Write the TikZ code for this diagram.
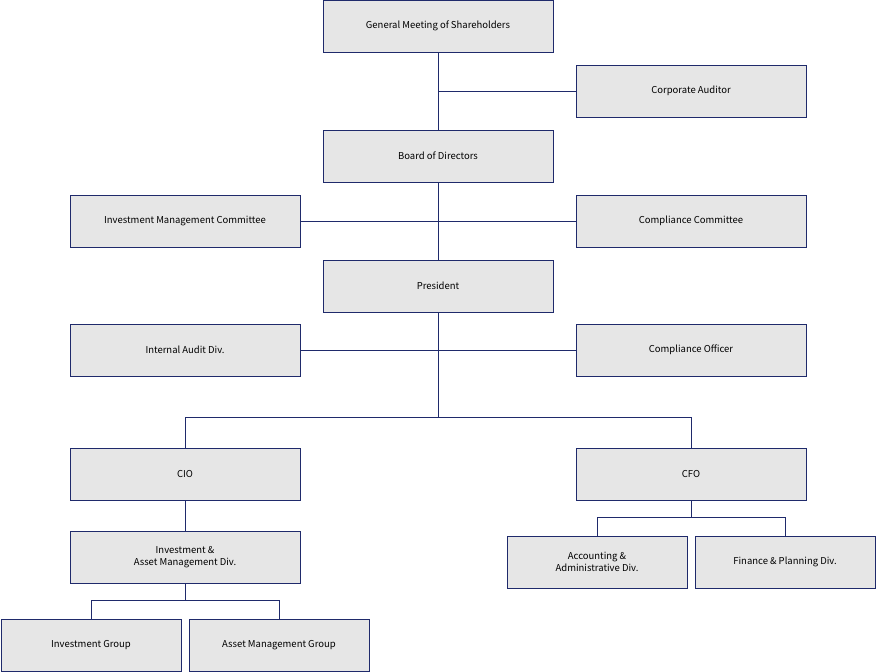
\documentclass[tikz,border=0pt]{standalone}
\usepackage{fontspec}
\setmainfont{Noto Sans CJK JP}
\definecolor{bd}{HTML}{1F2A6B}
\definecolor{bx}{HTML}{E6E6E6}
\begin{document}
\begin{tikzpicture}[x=1pt,y=-1pt,
 box/.style={draw=bd,fill=bx,line width=0.8pt,minimum width=230pt,minimum height=52pt,inner sep=0pt,align=center,font=\fontsize{9.5}{11.5}\selectfont},
 sbox/.style={box,minimum width=180pt},
 ln/.style={draw=bd,line width=0.8pt}]
\useasboundingbox (0,0) rectangle (876,672);
\node[box] (gm) at (438,26) {General Meeting of Shareholders};
\node[box] (ca) at (691,91) {Corporate Auditor};
\node[box] (bod) at (438,156) {Board of Directors};
\node[box] (imc) at (185,221) {Investment Management Committee};
\node[box] (cc) at (691,221) {Compliance Committee};
\node[box] (pr) at (438,286) {President};
\node[box] (ia) at (185,350) {Internal Audit Div.};
\node[box] (co) at (691,350) {Compliance Officer};
\node[box] (cio) at (185,474) {CIO};
\node[box] (cfo) at (691,474) {CFO};
\node[box] (iam) at (185,557) {Investment \&\\Asset Management Div.};
\node[sbox] (acc) at (597,562) {Accounting \&\\Administrative Div.};
\node[sbox] (fin) at (785,562) {Finance \& Planning Div.};
\node[sbox] (ig) at (91,645) {Investment Group};
\node[sbox] (amg) at (279,645) {Asset Management Group};
\coordinate (j1) at (438,91);
\coordinate (j2) at (438,221);
\coordinate (j3) at (438,350);
\coordinate (j4) at (438,417);
\coordinate (j5) at (185,600);
\coordinate (j6) at (691,517);
\path[ln] (gm) -- (bod) (bod) -- (pr) (pr.south) -- (j4);
\path[ln] (j1) -- (ca);
\path[ln] (imc) -- (cc);
\path[ln] (ia) -- (co);
\path[ln] (j4) -| (cio.north) (j4) -| (cfo.north);
\path[ln] (cio) -- (iam);
\path[ln] (iam.south) -- (j5) -| (ig.north) (j5) -| (amg.north);
\path[ln] (cfo.south) -- (j6) -| (acc.north) (j6) -| (fin.north);
\end{tikzpicture}
\end{document}
